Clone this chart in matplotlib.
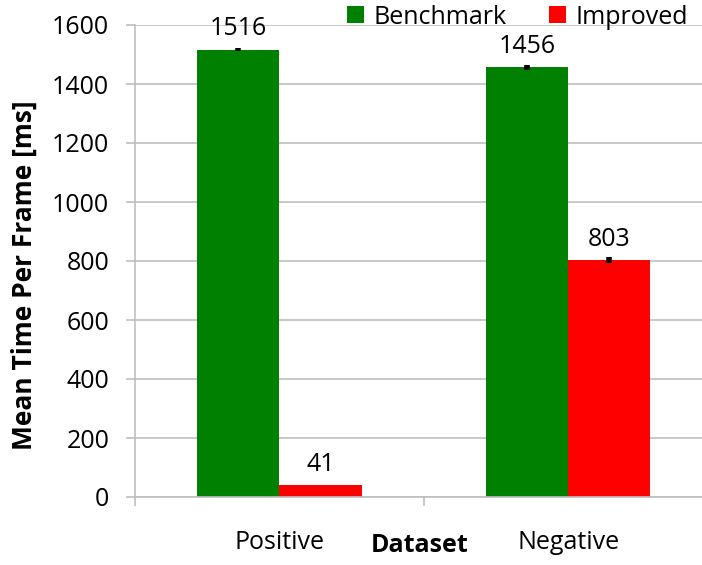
import matplotlib
matplotlib.use("Agg")
import matplotlib.pyplot as plt
import numpy as np

plt.rcParams['font.family'] = ['Open Sans', 'DejaVu Sans']

# Data
datasets = ["Positive", "Negative"]
series_names = ["Benchmark", "Improved"]
benchmark = [1516, 1456]
improved = [41, 803]
benchmark_err = [5, 8]
improved_err = [1, 10]
y_ticks = [0, 200, 400, 600, 800, 1000, 1200, 1400, 1600]

colors = ["#008000", "#FF0000"]
grid_col = "#BFBFBF"

W, H = 702, 565
fig = plt.figure(figsize=(W / 100, H / 100), dpi=100)
ax = fig.add_axes([135 / W, 1 - 497 / H, (702 - 135) / W, (497 - 25) / H])

x = np.arange(len(datasets))
bw = 0.285

for i, (vals, errs, name) in enumerate(zip([benchmark, improved],
                                           [benchmark_err, improved_err],
                                           series_names)):
    pos = x + (i - 0.5) * bw
    ax.bar(pos, vals, width=bw, color=colors[i], label=name, zorder=2)
    ax.errorbar(pos, vals, yerr=errs, fmt="none", ecolor="black",
                elinewidth=4, capsize=0, zorder=3)
    for px, v in zip(pos, vals):
        ax.annotate(f"{v}", (px, v), xytext=(0, 6), textcoords="offset points",
                    ha="center", va="bottom", fontsize=18, color="black")

ax.set_ylim(0, 1600)
ax.set_yticks(y_ticks)
ax.set_xlim(-0.5, (702 - 279) / 289)

ax.yaxis.grid(True, color=grid_col, linewidth=1.2, zorder=0)
ax.set_axisbelow(True)
for s in ["top", "right"]:
    ax.spines[s].set_visible(False)
for s in ["left", "bottom"]:
    ax.spines[s].set_color(grid_col)
    ax.spines[s].set_linewidth(1.2)

ax.tick_params(axis="y", direction="out", length=6.5, width=1.2, color=grid_col,
               labelsize=18, pad=12)
ax.set_xticks(x)
ax.set_xticklabels(datasets, fontsize=18)
ax.tick_params(axis="x", which="major", length=0, pad=24)
ax.set_xticks([-0.5, 0.5], minor=True)
ax.tick_params(axis="x", which="minor", direction="out", length=6.5, width=1.2,
               color=grid_col)

ax.set_ylabel("Mean Time Per Frame [ms]", fontsize=19, fontweight="bold",
              va="center")
ax.yaxis.set_label_coords((24 - 135) / 567, 0.47)
ax.set_xlabel("Dataset", fontsize=18, fontweight="bold", va="center")
ax.xaxis.set_label_coords((420 - 135) / 567, (497 - 546) / 472)

leg = fig.legend(loc="center right", bbox_to_anchor=(698 / W, 1 - 17 / H), ncol=2,
                 frameon=False, fontsize=18, handlelength=0.65, handleheight=0.65,
                 handletextpad=0.4, columnspacing=1.7, borderaxespad=0)

fig.savefig("out.png", dpi=100)
